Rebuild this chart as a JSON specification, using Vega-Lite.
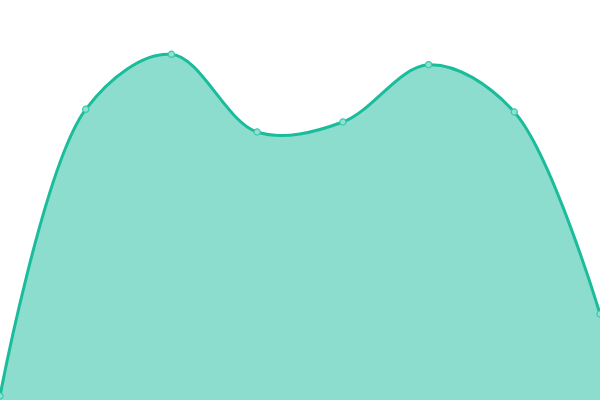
{
  "$schema": "https://vega.github.io/schema/vega-lite/v6.json",
  "autosize": {"type": "fit", "contains": "padding"},
  "width": 600,
  "height": 400,
  "padding": 0,
  "background": "white",
  "config": {"view": {"stroke": null}},
  "data": {
    "values": [
      {"i": 0, "v": 4},
      {"i": 1, "v": 290.7},
      {"i": 2, "v": 345.7},
      {"i": 3, "v": 268},
      {"i": 4, "v": 278},
      {"i": 5, "v": 335.3},
      {"i": 6, "v": 288},
      {"i": 7, "v": 86}
    ]
  },
  "encoding": {
    "x": {"field": "i", "type": "quantitative", "axis": null, "scale": {"domain": [0, 7], "nice": false, "zero": false}},
    "y": {"field": "v", "type": "quantitative", "axis": null, "scale": {"domain": [0, 400], "nice": false}}
  },
  "layer": [
    {
      "mark": {"type": "area", "interpolate": "catmull-rom", "color": "#1abc9c", "fillOpacity": 0.5, "line": {"color": "#1abc9c", "strokeWidth": 3}, "clip": true}
    },
    {
      "mark": {"type": "point", "filled": true, "size": 38, "fill": "#8ee2d2", "stroke": "#3cc8aa", "strokeWidth": 1.2, "opacity": 1, "clip": true}
    }
  ]
}
